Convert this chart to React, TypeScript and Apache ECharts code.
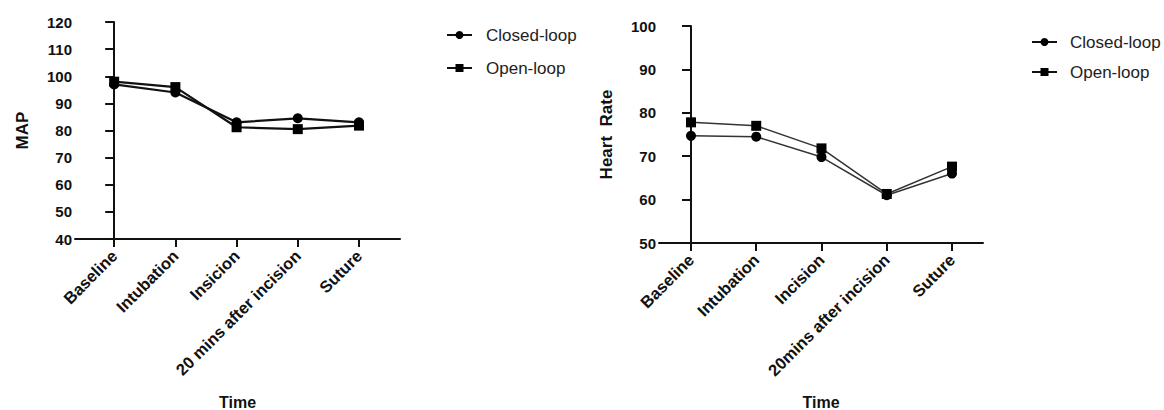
import React, { useEffect, useRef } from "react";
import * as echarts from "echarts";

const mapCategories = ["Baseline", "Intubation", "Insicion", "20 mins after incision", "Suture"];
const hrCategories = ["Baseline", "Intubation", "Incision", "20mins after incision", "Suture"];
const seriesNames = ["Closed-loop", "Open-loop"];
const mapClosed = [97, 94, 83, 84.5, 83];
const mapOpen = [98, 96, 81.2, 80.5, 81.8];
const hrClosed = [74.7, 74.5, 69.8, 61, 66];
const hrOpen = [77.8, 77, 71.8, 61.3, 67.6];
const mapTicks = [40, 120, 10];
const hrTicks = [50, 100, 10];

const FONT = "'Liberation Sans', Arial, Helvetica, sans-serif";

export default function App() {
  const ref = useRef<HTMLDivElement>(null);
  useEffect(() => {
    document.body.style.margin = "0";
    const chart = echarts.init(ref.current!, null, { renderer: "svg" });
    const idx = mapCategories.map((_, i) => i);
    const axisLine = { show: true, lineStyle: { color: "#111", width: 2 } };
    const xAxis = (cats: string[], gi: number, min: number, max: number, gap: number) => ({
      type: "value",
      gridIndex: gi,
      min,
      max,
      name: "Time",
      nameLocation: "middle",
      nameGap: gap,
      nameTextStyle: { fontFamily: FONT, fontWeight: "bold", fontSize: 16, color: "#111" },
      axisLine,
      axisTick: { show: true, length: 8, lineStyle: { color: "#111", width: 2 }, customValues: idx },
      splitLine: { show: false },
      axisLabel: {
        customValues: idx,
        rotate: 45,
        margin: 14,
        fontFamily: FONT,
        fontWeight: "bold",
        fontSize: 16.5,
        color: "#111",
        formatter: (v: number) => cats[Math.round(v)] ?? "",
      },
    });
    const yAxis = (gi: number, t: number[], name: string, gap: number) => ({
      type: "value",
      gridIndex: gi,
      min: t[0],
      max: t[1],
      interval: t[2],
      name,
      nameLocation: "middle",
      nameGap: gap,
      nameTextStyle: { fontFamily: FONT, fontWeight: "bold", fontSize: 17, color: "#111" },
      axisLine,
      axisTick: { show: true, length: 9, lineStyle: { color: "#111", width: 2 } },
      splitLine: { show: false },
      axisLabel: { margin: 3, fontFamily: FONT, fontWeight: "bold", fontSize: 15, color: "#111" },
    });
    const line = (name: string, data: number[], gi: number, symbol: string, width: number, color: string, size: number) => ({
      type: "line",
      name,
      xAxisIndex: gi,
      yAxisIndex: gi,
      data: data.map((v, i) => [i, v]),
      symbol,
      symbolSize: size,
      lineStyle: { color, width },
      itemStyle: { color: "#000" },
      z: symbol === "circle" ? 3 : 2,
    });
    chart.setOption({
      animation: false,
      backgroundColor: "#fff",
      grid: [
        { left: 75, top: 22, width: 325, height: 217, containLabel: false, outerBoundsMode: "none" },
        { left: 659, top: 26, width: 324, height: 217, containLabel: false, outerBoundsMode: "none" },
      ],
      xAxis: [xAxis(mapCategories, 0, -0.64, 4.67, 155), xAxis(hrCategories, 1, -0.49, 4.475, 151)],
      yAxis: [yAxis(0, mapTicks, "MAP", 44), yAxis(1, hrTicks, "Heart  Rate", 44)],
      legend: [
        {
          orient: "vertical",
          left: 441,
          top: 21,
          itemWidth: 25,
          itemHeight: 10,
          itemGap: 15,
          data: seriesNames,
          textStyle: { fontFamily: FONT, fontSize: 17, color: "#222", padding: [0, 0, 0, 9], lineHeight: 18 },
        },
        {
          orient: "vertical",
          left: 1026,
          top: 28,
          itemWidth: 25,
          itemHeight: 10,
          itemGap: 12,
          data: seriesNames,
          textStyle: { fontFamily: FONT, fontSize: 17, color: "#222", padding: [0, 0, 0, 8], lineHeight: 18 },
        },
      ],
      series: [
        line(seriesNames[0], mapClosed, 0, "circle", 2.2, "#111", 10),
        line(seriesNames[1], mapOpen, 0, "rect", 2.2, "#111", 10),
        line(seriesNames[0], hrClosed, 1, "circle", 1.5, "#333", 10),
        line(seriesNames[1], hrOpen, 1, "rect", 1.5, "#333", 10),
      ],
    });
    return () => chart.dispose();
  }, []);
  return <div ref={ref} style={{ width: 1164, height: 410 }} />;
}
